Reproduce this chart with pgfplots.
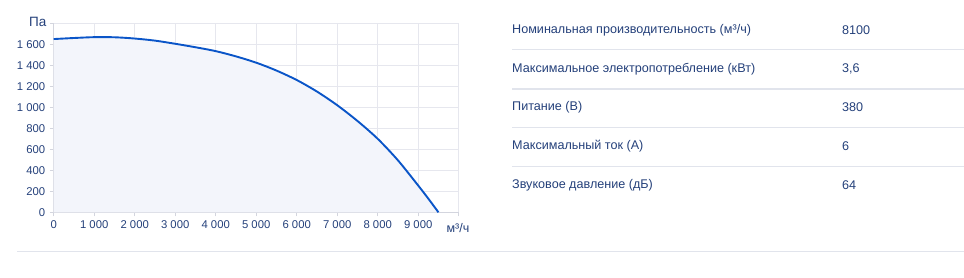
\documentclass[border=0pt]{standalone}
\usepackage{pgfplots}
\pgfplotsset{compat=1.18}
\usepackage{fontspec}
\setmainfont{Liberation Sans}
\definecolor{txt}{HTML}{24407A}
\definecolor{gridc}{HTML}{E6E7EE}
\definecolor{axc}{HTML}{D3D5DE}
\definecolor{curve}{HTML}{0A55C8}
\definecolor{fillc}{HTML}{F3F5FB}
\definecolor{sepc}{HTML}{E1E4EC}
\begin{document}
\begin{tikzpicture}[x=1pt,y=1pt]
\path[use as bounding box] (0,0) rectangle (964,-278);
\begin{axis}[
  at={(53.7pt,-212.3pt)}, anchor=south west,
  scale only axis, width=405pt, height=189pt,
  xmin=0, xmax=10000, ymin=0, ymax=1800,
  scaled x ticks=false, scaled y ticks=false,
  xtick={0,1000,...,9000}, ytick={0,200,...,1600},
  xticklabels={0,1 000,2 000,3 000,4 000,5 000,6 000,7 000,8 000,9 000},
  yticklabels={0,200,400,600,800,1 000,1 200,1 400,1 600},
  extra x ticks={10000}, extra x tick labels={},
  extra y ticks={1800}, extra y tick labels={},
  grid=major, major grid style={gridc, line width=0.8pt},
  axis line style={axc, line width=0.8pt},
  axis x line*=bottom, axis y line*=left,
  tick style={axc, line width=0.8pt},
  tick align=outside, major tick length=4pt,
  ticklabel style={font=\fontsize{11.3}{13}\selectfont, text=txt},
  /pgf/number format/assume math mode=true,
  yticklabel style={xshift=-1pt},
  xticklabel style={yshift=-1pt},
  clip=false,
]
\addplot[draw=none, fill=fillc, smooth, tension=0.5] coordinates {
 (0,1650) (500,1660) (1000,1668) (1500,1667) (2000,1655) (2500,1635)
 (3000,1605) (3500,1572) (4000,1535) (4500,1485) (5000,1425) (5500,1350)
 (6000,1260) (6500,1150) (7000,1020) (7500,870) (8000,700) (8500,495)
 (9000,255) (9250,130) (9500,0)} \closedcycle;
\addplot[curve, line width=1.9pt, smooth, tension=0.5] coordinates {
 (0,1650) (500,1660) (1000,1668) (1500,1667) (2000,1655) (2500,1635)
 (3000,1605) (3500,1572) (4000,1535) (4500,1485) (5000,1425) (5500,1350)
 (6000,1260) (6500,1150) (7000,1020) (7500,870) (8000,700) (8500,495)
 (9000,255) (9250,130) (9500,0)};
\end{axis}
% axis titles
\node[anchor=east, text=txt, font=\fontsize{13.5}{15}\selectfont, inner sep=0] at (46.5,-21.5) {Па};
\node[anchor=center, text=txt, font=\fontsize{12.5}{14}\selectfont, inner sep=0] at (458,-228.5) {м³/ч};
% table
\foreach \yy in {50,89,127,166}{\draw[sepc, line width=1pt] (512,-\yy) -- (964,-\yy);}
\draw[sepc, line width=1pt] (17,-251) -- (964,-251);
\begin{scope}[every node/.style={anchor=west, text=txt, font=\fontsize{12.6}{15}\selectfont, inner sep=0}]
\node at (512,-30.5) {Номинальная производительность (м³/ч)};
\node at (512,-69) {Максимальное электропотребление (кВт)};
\node at (512,-107.5) {Питание (В)};
\node at (512,-146.5) {Максимальный ток (А)};
\node at (512,-185) {Звуковое давление (дБ)};
\node at (842,-30.5) {8100};
\node at (842,-69) {3,6};
\node at (842,-107.5) {380};
\node at (842,-146.5) {6};
\node at (842,-185) {64};
\end{scope}
\end{tikzpicture}
\end{document}
